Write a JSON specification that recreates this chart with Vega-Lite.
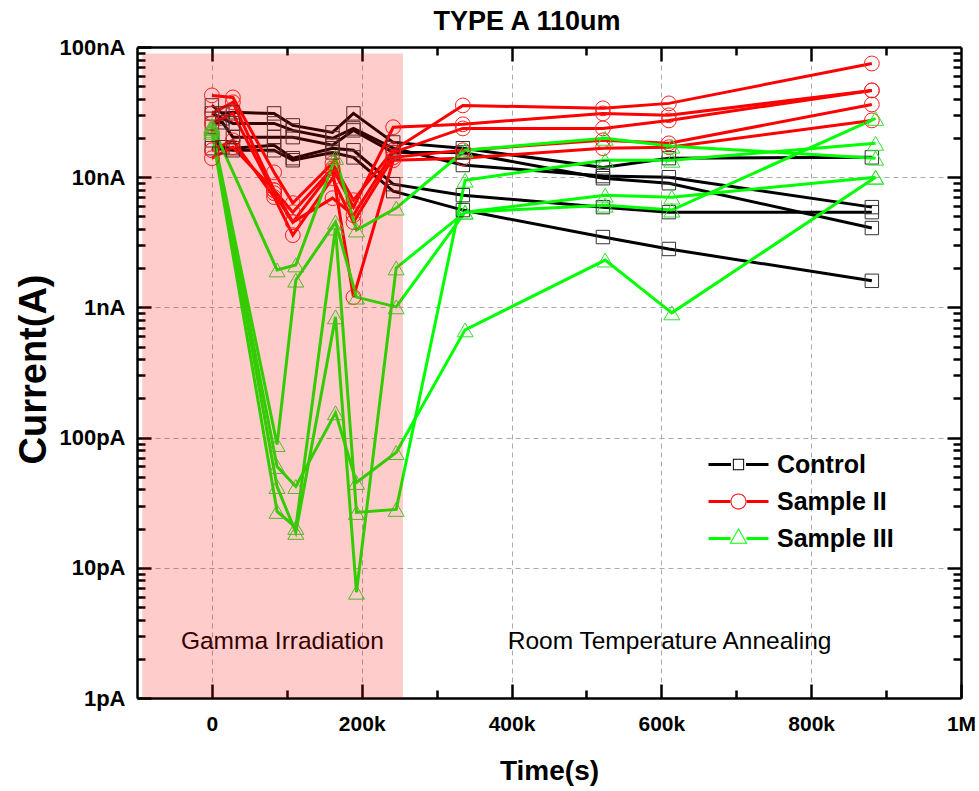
{
  "$schema": "https://vega.github.io/schema/vega-lite/v6.json",
  "width": 824,
  "height": 651,
  "autosize": {"type": "none"},
  "padding": {"left": 137, "top": 47, "right": 18, "bottom": 93},
  "background": "white",
  "title": {"text": "TYPE A 110um", "fontSize": 27, "fontWeight": "bold", "font": "Liberation Sans", "color": "black", "anchor": "middle", "dx": -22, "dy": 21, "baseline": "alphabetic", "offset": 0},
  "config": {"view": {"stroke": null}, "font": "Liberation Sans"},
  "datasets": {
    "meas": [
      {"group": "Control", "sample": "C1", "t": 0, "I": 35.6},
      {"group": "Control", "sample": "C1", "t": 14000, "I": 30.9},
      {"group": "Control", "sample": "C1", "t": 28000, "I": 31.5},
      {"group": "Control", "sample": "C1", "t": 83000, "I": 30.9},
      {"group": "Control", "sample": "C1", "t": 108000, "I": 25.0},
      {"group": "Control", "sample": "C1", "t": 161000, "I": 22.1},
      {"group": "Control", "sample": "C1", "t": 189000, "I": 30.9},
      {"group": "Control", "sample": "C1", "t": 242000, "I": 18.5},
      {"group": "Control", "sample": "C1", "t": 335000, "I": 16.7},
      {"group": "Control", "sample": "C1", "t": 522000, "I": 11.9},
      {"group": "Control", "sample": "C1", "t": 610000, "I": 14.0},
      {"group": "Control", "sample": "C1", "t": 881000, "I": 14.2},
      {"group": "Control", "sample": "C2", "t": 0, "I": 30.9},
      {"group": "Control", "sample": "C2", "t": 14000, "I": 28.3},
      {"group": "Control", "sample": "C2", "t": 28000, "I": 25.9},
      {"group": "Control", "sample": "C2", "t": 83000, "I": 25.9},
      {"group": "Control", "sample": "C2", "t": 108000, "I": 22.9},
      {"group": "Control", "sample": "C2", "t": 161000, "I": 19.9},
      {"group": "Control", "sample": "C2", "t": 189000, "I": 23.7},
      {"group": "Control", "sample": "C2", "t": 242000, "I": 16.7},
      {"group": "Control", "sample": "C2", "t": 335000, "I": 12.4},
      {"group": "Control", "sample": "C2", "t": 522000, "I": 10.2},
      {"group": "Control", "sample": "C2", "t": 610000, "I": 10.0},
      {"group": "Control", "sample": "C2", "t": 881000, "I": 5.89},
      {"group": "Control", "sample": "C3", "t": 0, "I": 25.9},
      {"group": "Control", "sample": "C3", "t": 14000, "I": 26.4},
      {"group": "Control", "sample": "C3", "t": 28000, "I": 20.3},
      {"group": "Control", "sample": "C3", "t": 83000, "I": 20.3},
      {"group": "Control", "sample": "C3", "t": 108000, "I": 20.3},
      {"group": "Control", "sample": "C3", "t": 161000, "I": 17.6},
      {"group": "Control", "sample": "C3", "t": 189000, "I": 22.9},
      {"group": "Control", "sample": "C3", "t": 242000, "I": 15.5},
      {"group": "Control", "sample": "C3", "t": 335000, "I": 15.5},
      {"group": "Control", "sample": "C3", "t": 522000, "I": 9.82},
      {"group": "Control", "sample": "C3", "t": 610000, "I": 8.99},
      {"group": "Control", "sample": "C3", "t": 881000, "I": 4.07},
      {"group": "Control", "sample": "C4", "t": 0, "I": 19.2},
      {"group": "Control", "sample": "C4", "t": 14000, "I": 17.0},
      {"group": "Control", "sample": "C4", "t": 28000, "I": 16.7},
      {"group": "Control", "sample": "C4", "t": 83000, "I": 17.6},
      {"group": "Control", "sample": "C4", "t": 108000, "I": 14.0},
      {"group": "Control", "sample": "C4", "t": 161000, "I": 16.7},
      {"group": "Control", "sample": "C4", "t": 189000, "I": 16.1},
      {"group": "Control", "sample": "C4", "t": 242000, "I": 8.84},
      {"group": "Control", "sample": "C4", "t": 335000, "I": 7.28},
      {"group": "Control", "sample": "C4", "t": 522000, "I": 5.89},
      {"group": "Control", "sample": "C4", "t": 610000, "I": 5.39},
      {"group": "Control", "sample": "C4", "t": 881000, "I": 5.39},
      {"group": "Control", "sample": "C5", "t": 0, "I": 16.7},
      {"group": "Control", "sample": "C5", "t": 28000, "I": 16.1},
      {"group": "Control", "sample": "C5", "t": 83000, "I": 16.1},
      {"group": "Control", "sample": "C5", "t": 108000, "I": 13.5},
      {"group": "Control", "sample": "C5", "t": 161000, "I": 15.5},
      {"group": "Control", "sample": "C5", "t": 189000, "I": 14.2},
      {"group": "Control", "sample": "C5", "t": 242000, "I": 7.81},
      {"group": "Control", "sample": "C5", "t": 335000, "I": 5.59},
      {"group": "Control", "sample": "C5", "t": 522000, "I": 3.47},
      {"group": "Control", "sample": "C5", "t": 610000, "I": 2.81},
      {"group": "Control", "sample": "C5", "t": 881000, "I": 1.60},
      {"group": "Sample II", "sample": "R1", "t": 0, "I": 42.5},
      {"group": "Sample II", "sample": "R1", "t": 28000, "I": 41.0},
      {"group": "Sample II", "sample": "R1", "t": 83000, "I": 10.9},
      {"group": "Sample II", "sample": "R1", "t": 108000, "I": 6.32},
      {"group": "Sample II", "sample": "R1", "t": 161000, "I": 12.8},
      {"group": "Sample II", "sample": "R1", "t": 189000, "I": 6.66},
      {"group": "Sample II", "sample": "R1", "t": 242000, "I": 16.1},
      {"group": "Sample II", "sample": "R1", "t": 335000, "I": 35.6},
      {"group": "Sample II", "sample": "R1", "t": 522000, "I": 33.8},
      {"group": "Sample II", "sample": "R1", "t": 610000, "I": 36.9},
      {"group": "Sample II", "sample": "R1", "t": 881000, "I": 74.7},
      {"group": "Sample II", "sample": "R2", "t": 0, "I": 30.9},
      {"group": "Sample II", "sample": "R2", "t": 28000, "I": 37.6},
      {"group": "Sample II", "sample": "R2", "t": 83000, "I": 7.95},
      {"group": "Sample II", "sample": "R2", "t": 108000, "I": 5.39},
      {"group": "Sample II", "sample": "R2", "t": 161000, "I": 11.7},
      {"group": "Sample II", "sample": "R2", "t": 189000, "I": 5.89},
      {"group": "Sample II", "sample": "R2", "t": 242000, "I": 24.2},
      {"group": "Sample II", "sample": "R2", "t": 335000, "I": 25.5},
      {"group": "Sample II", "sample": "R2", "t": 522000, "I": 30.9},
      {"group": "Sample II", "sample": "R2", "t": 610000, "I": 29.9},
      {"group": "Sample II", "sample": "R2", "t": 881000, "I": 46.4},
      {"group": "Sample II", "sample": "R3", "t": 0, "I": 25.9},
      {"group": "Sample II", "sample": "R3", "t": 28000, "I": 30.9},
      {"group": "Sample II", "sample": "R3", "t": 83000, "I": 7.54},
      {"group": "Sample II", "sample": "R3", "t": 108000, "I": 4.52},
      {"group": "Sample II", "sample": "R3", "t": 161000, "I": 6.90},
      {"group": "Sample II", "sample": "R3", "t": 189000, "I": 5.11},
      {"group": "Sample II", "sample": "R3", "t": 242000, "I": 15.5},
      {"group": "Sample II", "sample": "R3", "t": 335000, "I": 23.7},
      {"group": "Sample II", "sample": "R3", "t": 522000, "I": 23.7},
      {"group": "Sample II", "sample": "R3", "t": 610000, "I": 27.3},
      {"group": "Sample II", "sample": "R3", "t": 881000, "I": 46.4},
      {"group": "Sample II", "sample": "R4", "t": 0, "I": 16.1},
      {"group": "Sample II", "sample": "R4", "t": 28000, "I": 19.2},
      {"group": "Sample II", "sample": "R4", "t": 83000, "I": 7.03},
      {"group": "Sample II", "sample": "R4", "t": 108000, "I": 3.59},
      {"group": "Sample II", "sample": "R4", "t": 161000, "I": 9.82},
      {"group": "Sample II", "sample": "R4", "t": 189000, "I": 4.52},
      {"group": "Sample II", "sample": "R4", "t": 242000, "I": 14.2},
      {"group": "Sample II", "sample": "R4", "t": 335000, "I": 16.1},
      {"group": "Sample II", "sample": "R4", "t": 522000, "I": 19.2},
      {"group": "Sample II", "sample": "R4", "t": 610000, "I": 18.2},
      {"group": "Sample II", "sample": "R4", "t": 881000, "I": 36.2},
      {"group": "Sample II", "sample": "R5", "t": 0, "I": 14.0},
      {"group": "Sample II", "sample": "R5", "t": 28000, "I": 17.0},
      {"group": "Sample II", "sample": "R5", "t": 83000, "I": 7.95},
      {"group": "Sample II", "sample": "R5", "t": 108000, "I": 4.52},
      {"group": "Sample II", "sample": "R5", "t": 161000, "I": 11.3},
      {"group": "Sample II", "sample": "R5", "t": 189000, "I": 1.20},
      {"group": "Sample II", "sample": "R5", "t": 242000, "I": 13.5},
      {"group": "Sample II", "sample": "R5", "t": 335000, "I": 14.0},
      {"group": "Sample II", "sample": "R5", "t": 522000, "I": 16.7},
      {"group": "Sample II", "sample": "R5", "t": 610000, "I": 17.0},
      {"group": "Sample II", "sample": "R5", "t": 881000, "I": 27.3},
      {"group": "Sample III", "sample": "G1", "t": 0, "I": 25.0},
      {"group": "Sample III", "sample": "G1", "t": 87000, "I": 1.94},
      {"group": "Sample III", "sample": "G1", "t": 112000, "I": 2.12},
      {"group": "Sample III", "sample": "G1", "t": 165000, "I": 14.2},
      {"group": "Sample III", "sample": "G1", "t": 193000, "I": 3.93},
      {"group": "Sample III", "sample": "G1", "t": 246000, "I": 5.79},
      {"group": "Sample III", "sample": "G1", "t": 338000, "I": 16.1},
      {"group": "Sample III", "sample": "G1", "t": 525000, "I": 19.9},
      {"group": "Sample III", "sample": "G1", "t": 614000, "I": 17.3},
      {"group": "Sample III", "sample": "G1", "t": 886000, "I": 14.0},
      {"group": "Sample III", "sample": "G2", "t": 0, "I": 23.7},
      {"group": "Sample III", "sample": "G2", "t": 87000, "I": 0.0884},
      {"group": "Sample III", "sample": "G2", "t": 112000, "I": 1.62},
      {"group": "Sample III", "sample": "G2", "t": 165000, "I": 4.52},
      {"group": "Sample III", "sample": "G2", "t": 193000, "I": 1.20},
      {"group": "Sample III", "sample": "G2", "t": 246000, "I": 1.01},
      {"group": "Sample III", "sample": "G2", "t": 338000, "I": 5.39},
      {"group": "Sample III", "sample": "G2", "t": 525000, "I": 6.10},
      {"group": "Sample III", "sample": "G2", "t": 614000, "I": 5.59},
      {"group": "Sample III", "sample": "G2", "t": 886000, "I": 28.3},
      {"group": "Sample III", "sample": "G3", "t": 0, "I": 22.9},
      {"group": "Sample III", "sample": "G3", "t": 87000, "I": 0.0600},
      {"group": "Sample III", "sample": "G3", "t": 112000, "I": 0.0421},
      {"group": "Sample III", "sample": "G3", "t": 165000, "I": 0.155},
      {"group": "Sample III", "sample": "G3", "t": 193000, "I": 0.0452},
      {"group": "Sample III", "sample": "G3", "t": 246000, "I": 0.0768},
      {"group": "Sample III", "sample": "G3", "t": 338000, "I": 0.672},
      {"group": "Sample III", "sample": "G3", "t": 525000, "I": 2.31},
      {"group": "Sample III", "sample": "G3", "t": 614000, "I": 0.908},
      {"group": "Sample III", "sample": "G3", "t": 886000, "I": 10.0},
      {"group": "Sample III", "sample": "G4", "t": 0, "I": 24.2},
      {"group": "Sample III", "sample": "G4", "t": 87000, "I": 0.0421},
      {"group": "Sample III", "sample": "G4", "t": 112000, "I": 0.0187},
      {"group": "Sample III", "sample": "G4", "t": 165000, "I": 0.846},
      {"group": "Sample III", "sample": "G4", "t": 193000, "I": 0.00649},
      {"group": "Sample III", "sample": "G4", "t": 246000, "I": 2.01},
      {"group": "Sample III", "sample": "G4", "t": 338000, "I": 5.39},
      {"group": "Sample III", "sample": "G4", "t": 525000, "I": 7.28},
      {"group": "Sample III", "sample": "G4", "t": 614000, "I": 7.03},
      {"group": "Sample III", "sample": "G4", "t": 886000, "I": 10.0},
      {"group": "Sample III", "sample": "G5", "t": 0, "I": 22.1},
      {"group": "Sample III", "sample": "G5", "t": 87000, "I": 0.0271},
      {"group": "Sample III", "sample": "G5", "t": 112000, "I": 0.0204},
      {"group": "Sample III", "sample": "G5", "t": 165000, "I": 4.07},
      {"group": "Sample III", "sample": "G5", "t": 193000, "I": 0.0266},
      {"group": "Sample III", "sample": "G5", "t": 246000, "I": 0.0281},
      {"group": "Sample III", "sample": "G5", "t": 338000, "I": 9.48},
      {"group": "Sample III", "sample": "G5", "t": 525000, "I": 13.5},
      {"group": "Sample III", "sample": "G5", "t": 614000, "I": 13.5},
      {"group": "Sample III", "sample": "G5", "t": 886000, "I": 18.2}
    ]
  },
  "layer": [
    {
      "data": {"name": "meas"},
      "mark": {"type": "line", "strokeWidth": 3, "clip": true},
      "encoding": {
        "x": {"field": "t", "type": "quantitative",
          "scale": {"domain": [-100000, 1000000], "nice": false, "zero": false},
          "axis": {"orient": "bottom", "values": [0, 200000, 400000, 600000, 800000, 1000000],
            "labelExpr": "datum.value == 0 ? '0' : (datum.value >= 1000000 ? '1M' : round(datum.value/1000) + 'k')",
            "labelFontSize": 21, "labelFontWeight": "bold", "labelColor": "black", "labelFont": "Liberation Sans", "labelPadding": 29, "labelFlush": false, "labelOverlap": false,
            "tickSize": -14, "tickWidth": 2.5, "tickColor": "black",
            "domainColor": "black", "domainWidth": 2.5,
            "grid": true, "gridDash": [5, 4], "gridColor": "#aaaaaa", "gridWidth": 1,
            "title": "Time(s)", "titleFontSize": 28, "titleFontWeight": "bold", "titleColor": "black", "titleFont": "Liberation Sans",
            "titleX": 412, "titleY": 73, "titleBaseline": "middle", "titleAlign": "center"}},
        "y": {"field": "I", "type": "quantitative",
          "scale": {"type": "log", "domain": [0.001, 100], "nice": false},
          "axis": {"orient": "left", "values": [0.001, 0.01, 0.1, 1, 10, 100],
            "labelExpr": "datum.value >= 1 ? round(datum.value) + 'nA' : round(datum.value*1000) + 'pA'",
            "labelFontSize": 22, "labelFontWeight": "bold", "labelColor": "black", "labelFont": "Liberation Sans", "labelPadding": 26, "labelFlush": false, "labelOverlap": false,
            "tickSize": -14, "tickWidth": 2.5, "tickColor": "black",
            "domainColor": "black", "domainWidth": 2.5,
            "grid": true, "gridDash": [5, 4], "gridColor": "#aaaaaa", "gridWidth": 1,
            "title": "Current(A)", "titleFontSize": 38, "titleFontWeight": "bold", "titleColor": "black", "titleFont": "Liberation Sans",
            "titleAngle": -90, "titleX": -103, "titleY": 322, "titleBaseline": "middle", "titleAlign": "center"}},
        "color": {"field": "group", "type": "nominal",
          "scale": {"domain": ["Control", "Sample II", "Sample III"], "range": ["#000000", "#ff0000", "#00ff00"]},
          "legend": {"orient": "none", "legendX": 589, "legendY": 405, "title": null, "padding": 0,
            "symbolSize": 100, "symbolStrokeWidth": 0,
            "labelFontSize": 25, "labelFontWeight": "bold", "labelFont": "Liberation Sans", "labelColor": "black", "labelOffset": 26, "rowPadding": 11,
            "encode": {"symbols": {"update": {
              "shape": {"signal": "datum.value === 'Control' ? 'M-6,-0.3H-1.5V0.3H-6Z M1.5,-0.3H6V0.3H1.5Z M-1.13,-1.13H1.13V1.13H-1.13Z M-0.93,-0.93V0.93H0.93V-0.93Z' : (datum.value === 'Sample II' ? 'M-6,-0.3H-1.65V0.3H-6Z M1.65,-0.3H6V0.3H1.65Z M-1.6,0A1.6,1.6,0,1,1,1.6,0A1.6,1.6,0,1,1,-1.6,0Z M-1.4,0A1.4,1.4,0,1,0,1.4,0A1.4,1.4,0,1,0,-1.4,0Z' : 'M-6,-0.3H-1.6V0.3H-6Z M1.6,-0.3H6V0.3H1.6Z M0,-2.1L1.8,1.06H-1.8Z M0,-1.72L-1.46,0.86H1.46Z')"},
              "fill": {"scale": "color", "field": "value"},
              "stroke": {"value": "transparent"},
              "strokeWidth": {"value": 0},
              "opacity": {"value": 1}
            }}}}},
        "detail": {"field": "sample"},
        "order": {"field": "t", "type": "quantitative"}
      }
    },
    {
      "data": {"name": "meas"},
      "transform": [{"filter": "datum.group === 'Control'"}],
      "mark": {"type": "point", "shape": "square", "filled": false, "stroke": "#333333", "strokeWidth": 1, "size": 180, "opacity": 1, "clip": true},
      "encoding": {
        "x": {"field": "t", "type": "quantitative",
          "scale": {"domain": [-100000, 1000000], "nice": false, "zero": false},
          "axis": {"orient": "top", "values": [0, 200000, 400000, 600000, 800000], "labels": false, "grid": false, "title": null,
            "tickSize": -14, "tickWidth": 2.5, "tickColor": "black", "domainColor": "black", "domainWidth": 2.5}},
        "y": {"field": "I", "type": "quantitative",
          "scale": {"type": "log", "domain": [0.001, 100], "nice": false},
          "axis": {"orient": "right", "values": [0.01, 0.1, 1, 10], "labels": false, "grid": false, "title": null,
            "tickSize": -14, "tickWidth": 2.5, "tickColor": "black", "domainColor": "black", "domainWidth": 2.5}}
      }
    },
    {
      "data": {"name": "meas"},
      "transform": [{"filter": "datum.group === 'Sample II'"}],
      "mark": {"type": "point", "shape": "circle", "filled": false, "stroke": "#ff2020", "strokeWidth": 1, "size": 220, "opacity": 1, "clip": true},
      "encoding": {
        "x": {"field": "t", "type": "quantitative", "scale": {"domain": [-100000, 1000000], "nice": false, "zero": false}, "axis": null},
        "y": {"field": "I", "type": "quantitative", "scale": {"type": "log", "domain": [0.001, 100], "nice": false}, "axis": null}
      }
    },
    {
      "data": {"name": "meas"},
      "transform": [{"filter": "datum.group === 'Sample III'"}],
      "mark": {"type": "point", "shape": "triangle-up", "filled": false, "stroke": "#30e030", "strokeWidth": 1, "size": 256, "opacity": 1, "clip": true},
      "encoding": {
        "x": {"field": "t", "type": "quantitative", "scale": {"domain": [-100000, 1000000], "nice": false, "zero": false}, "axis": null},
        "y": {"field": "I", "type": "quantitative", "scale": {"type": "log", "domain": [0.001, 100], "nice": false}, "axis": null}
      }
    },
    {
      "data": {"values": [
        {"t": 94000, "I": 0.0027, "label": "Gamma Irradiation"},
        {"t": 611000, "I": 0.0027, "label": "Room Temperature Annealing"}
      ]},
      "mark": {"type": "text", "fontSize": 24.5, "font": "Liberation Sans", "color": "black", "baseline": "middle", "align": "center"},
      "encoding": {
        "x": {"field": "t", "type": "quantitative",
          "scale": {"domain": [-100000, 1000000], "nice": false, "zero": false},
          "axis": {"orient": "bottom", "values": [100000, 300000, 500000, 700000, 900000], "labels": false, "grid": false, "title": null, "domain": false,
            "tickSize": -8, "tickWidth": 2.5, "tickColor": "black"}},
        "y": {"field": "I", "type": "quantitative",
          "scale": {"type": "log", "domain": [0.001, 100], "nice": false},
          "axis": {"orient": "left", "values": [0.002, 0.003, 0.004, 0.005, 0.006, 0.007, 0.008, 0.009, 0.02, 0.03, 0.04, 0.05, 0.06, 0.07, 0.08, 0.09, 0.2, 0.3, 0.4, 0.5, 0.6, 0.7, 0.8, 0.9, 2, 3, 4, 5, 6, 7, 8, 9, 20, 30, 40, 50, 60, 70, 80, 90],
            "labels": false, "grid": false, "title": null, "domain": false,
            "tickSize": -8, "tickWidth": 2.5, "tickColor": "black"}},
        "text": {"field": "label", "type": "nominal"}
      }
    },
    {
      "data": {"values": [{"t": -93000, "t2": 255000, "I": 0.001, "I2": 89}]},
      "mark": {"type": "rect", "color": "#ff0000", "opacity": 0.2},
      "encoding": {
        "x": {"field": "t", "type": "quantitative",
          "scale": {"domain": [-100000, 1000000], "nice": false, "zero": false},
          "axis": {"orient": "top", "values": [100000, 300000, 500000, 700000, 900000], "labels": false, "grid": false, "title": null, "domain": false,
            "tickSize": -8, "tickWidth": 2.5, "tickColor": "black"}},
        "x2": {"field": "t2"},
        "y": {"field": "I", "type": "quantitative",
          "scale": {"type": "log", "domain": [0.001, 100], "nice": false},
          "axis": {"orient": "right", "values": [0.002, 0.003, 0.004, 0.005, 0.006, 0.007, 0.008, 0.009, 0.02, 0.03, 0.04, 0.05, 0.06, 0.07, 0.08, 0.09, 0.2, 0.3, 0.4, 0.5, 0.6, 0.7, 0.8, 0.9, 2, 3, 4, 5, 6, 7, 8, 9, 20, 30, 40, 50, 60, 70, 80, 90],
            "labels": false, "grid": false, "title": null, "domain": false,
            "tickSize": -8, "tickWidth": 2.5, "tickColor": "black"}},
        "y2": {"field": "I2"}
      }
    }
  ],
  "resolve": {"axis": {"x": "independent", "y": "independent"}}
}
